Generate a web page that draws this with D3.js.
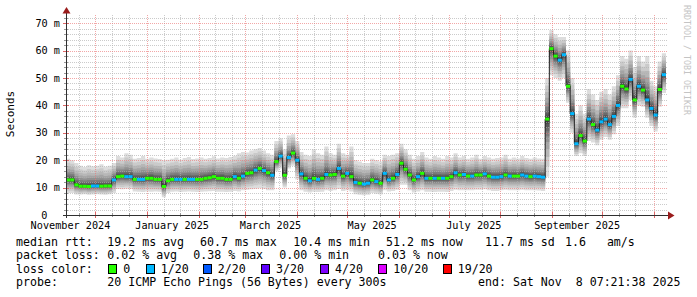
<!DOCTYPE html>
<html>
<head>
<meta charset="utf-8">
<script src="https://d3js.org/d3.v7.min.js"></script>
<style>
html, body { margin: 0; padding: 0; background: #fff; }
svg { display: block; }
text { font-family: "DejaVu Sans Mono", monospace; white-space: pre; }
</style>
</head>
<body>
<svg id="chart" width="697" height="297"></svg>
<script>
// one consolidated point every 2.5 days (720 x 300s), 360 days back from the end stamp
var endTime = Date.UTC(2025, 10, 8, 7, 21, 38);
var stepMs = 720 * 300 * 1000;
var startTime = endTime - 144 * stepMs;

// median rtt per point, ms
var median = [
  12.8, 12.8, 11.0, 10.5, 10.5, 10.4, 10.6, 10.6, 10.5, 10.6, 10.6, 12.8,
  14.0, 14.2, 14.0, 14.0, 13.0, 13.0, 13.0, 13.4, 13.4, 13.0, 13.0, 10.4,
  12.5, 13.0, 13.0, 13.0, 13.0, 13.0, 13.0, 13.0, 13.0, 13.4, 13.6, 14.0,
  13.4, 13.4, 13.0, 13.0, 14.0, 13.4, 14.2, 15.2, 15.4, 16.4, 17.0, 16.2,
  15.4, 14.5, 19.5, 21.5, 14.5, 21.0, 22.6, 20.0, 15.0, 13.4, 12.5, 13.4,
  13.0, 13.4, 14.8, 14.6, 14.8, 17.0, 14.2, 15.2, 14.0, 11.9, 11.6, 11.3,
  11.6, 12.8, 12.2, 11.6, 15.2, 12.8, 13.4, 14.8, 18.9, 16.7, 14.6, 12.8,
  14.0, 15.2, 13.4, 13.4, 13.4, 13.4, 13.4, 13.4, 14.0, 15.4, 14.6, 14.8,
  14.2, 14.2, 14.6, 14.6, 15.0, 14.2, 13.8, 13.8, 14.0, 14.6, 14.2, 14.2,
  14.2, 14.6, 14.2, 14.0, 14.2, 14.0, 13.8, 35.0, 60.7, 58.0, 56.5, 58.5,
  47.0, 37.0, 26.0, 29.0, 27.0, 35.0, 33.0, 31.0, 34.0, 35.0, 33.0, 36.0,
  40.0, 47.0, 46.0, 49.5, 42.0, 47.0, 45.6, 42.0, 38.9, 36.5, 45.8, 51.2
];

// lowest and highest of the 20 pings per point (smoke extent), ms
var smokeLo = [
  8.0, 8.0, 7.5, 7.5, 7.6, 7.4, 7.5, 7.6, 7.5, 7.4, 7.6, 8.0,
  9.5, 9.4, 9.6, 9.5, 8.6, 8.5, 8.4, 8.6, 8.5, 8.6, 8.5, 6.5,
  8.0, 8.5, 8.6, 8.4, 8.5, 8.6, 8.5, 8.4, 8.5, 8.6, 8.7, 8.8,
  8.5, 8.5, 8.4, 8.5, 8.8, 8.6, 9.0, 9.2, 9.4, 9.6, 9.8, 9.5,
  9.0, 9.0, 16.0, 17.0, 10.0, 17.0, 18.0, 13.0, 9.0, 8.5, 8.2, 8.5,
  8.4, 8.5, 9.0, 8.8, 9.0, 9.5, 8.8, 9.0, 8.6, 7.6, 7.4, 7.2,
  7.4, 8.0, 7.8, 7.5, 9.0, 8.6, 8.8, 9.2, 11.0, 11.0, 9.0, 8.2,
  8.6, 9.0, 8.5, 8.5, 8.4, 8.5, 8.5, 8.4, 8.8, 9.2, 9.0, 9.0,
  9.0, 9.0, 9.2, 9.2, 9.4, 9.0, 8.8, 8.8, 9.0, 9.2, 9.0, 9.0,
  9.0, 9.2, 9.0, 9.0, 9.0, 8.9, 8.8, 14.0, 51.0, 50.0, 49.0, 50.0,
  41.0, 30.0, 21.5, 22.5, 21.5, 27.0, 26.5, 25.5, 27.5, 28.5, 27.5, 29.5,
  32.5, 39.0, 39.0, 42.0, 35.5, 40.0, 39.5, 35.5, 32.5, 30.5, 39.5, 44.5
];
var smokeHi = [
  20.5, 20.0, 19.0, 18.0, 17.5, 18.2, 17.8, 18.0, 18.5, 17.6, 18.0, 19.0,
  21.5, 21.0, 22.5, 22.0, 20.5, 20.8, 21.5, 20.5, 21.0, 20.6, 20.4, 20.0,
  20.2, 20.5, 21.0, 20.2, 20.8, 21.2, 20.4, 20.6, 21.0, 20.5, 20.8, 21.4,
  20.6, 21.0, 20.8, 21.2, 21.6, 22.5, 23.0, 22.8, 23.5, 24.0, 24.5, 23.5,
  22.5, 22.0, 27.0, 28.0, 24.0, 29.0, 29.5, 27.0, 23.0, 22.0, 21.5, 24.0,
  22.5, 22.0, 25.0, 22.5, 22.0, 26.0, 22.5, 22.0, 25.0, 20.0, 19.5, 19.0,
  19.0, 20.5, 20.0, 19.5, 22.0, 21.5, 22.0, 22.5, 26.0, 24.0, 22.0, 20.5,
  21.5, 23.0, 21.0, 20.5, 21.5, 21.0, 20.5, 21.5, 21.0, 22.5, 21.0, 21.5,
  20.5, 21.0, 22.0, 20.5, 21.5, 21.0, 20.5, 20.8, 21.0, 22.0, 20.5, 21.0,
  20.6, 21.5, 20.8, 20.5, 21.0, 20.6, 20.5, 50.0, 67.5, 66.0, 65.0, 65.0,
  60.0, 50.0, 37.0, 40.0, 37.0, 46.0, 44.0, 42.0, 45.0, 46.0, 44.0, 47.0,
  51.0, 58.0, 57.0, 60.0, 54.0, 58.0, 56.0, 58.0, 49.0, 47.0, 56.0, 59.0
];

// lost pings (of 20) per point
var lossCount = [
  0, 0, 0, 0, 0, 0, 1, 1, 0, 0, 0, 1,
  0, 0, 1, 1, 0, 1, 1, 0, 0, 0, 0, 0,
  0, 0, 1, 1, 0, 1, 1, 0, 0, 0, 0, 0,
  0, 0, 0, 0, 1, 0, 1, 0, 0, 1, 0, 1,
  0, 1, 0, 1, 0, 1, 0, 1, 1, 0, 1, 0,
  1, 0, 1, 0, 0, 1, 0, 1, 0, 1, 0, 1,
  1, 0, 1, 0, 1, 1, 0, 1, 0, 0, 0, 0,
  1, 0, 1, 0, 1, 0, 1, 0, 0, 1, 0, 1,
  0, 1, 0, 0, 1, 0, 1, 1, 1, 0, 1, 0,
  0, 1, 1, 0, 1, 1, 1, 0, 0, 0, 1, 1,
  0, 1, 1, 0, 0, 1, 0, 1, 1, 1, 1, 1,
  1, 0, 0, 1, 0, 1, 0, 1, 1, 1, 0, 1
];

var yMajor = [10, 20, 30, 40, 50, 60, 70];
var yLabels = ["10 m", "20 m", "30 m", "40 m", "50 m", "60 m", "70 m"];

var lossLevels = [0, 1, 2, 3, 4, 10, 19];
var lossLabels = ["0", "1/20", "2/20", "3/20", "4/20", "10/20", "19/20"];
var lossColors = ["#26ff00", "#00b8ff", "#0059ff", "#5e00ff", "#7e00ff", "#dd00ff", "#ff0000"];

var rttRow = ["median rtt:", "19.2 ms avg", "60.7 ms max", "10.4 ms min", "51.2 ms now", "11.7 ms sd", "1.6   am/s"];
var lossRow = ["packet loss:", "0.02 % avg", "0.38 % max", "0.00 % min", "0.03 % now"];
var probeRow = ["probe:", "20 ICMP Echo Pings (56 Bytes) every 300s", "end: Sat Nov  8 07:21:38 2025"];

// smoke shades, outer pair of pings first
var smokeGrays = [221, 202, 183, 164, 145, 126, 107, 88, 69, 50];
var smokeSpread = [1, 0.82, 0.66, 0.52, 0.4, 0.3, 0.21, 0.14, 0.08, 0.04];

var svg = d3.select("#chart");
var x = d3.scaleUtc().domain([new Date(startTime), new Date(endTime)]).range([66, 666]);
var y = d3.scaleLinear().domain([0, 73]).range([215, 15]);

var pts = median.map(function(m, i) {
    return {t0: new Date(startTime + i * stepMs), t1: new Date(startTime + (i + 1) * stepMs),
            med: m, lo: smokeLo[i], hi: smokeHi[i], loss: lossCount[i]};
});
var last = pts[pts.length - 1];
var stepPts = pts.concat([{t0: last.t1, med: last.med, lo: last.lo, hi: last.hi}]);

// smoke
smokeGrays.forEach(function(g, k) {
    var f = smokeSpread[k];
    var area = d3.area()
        .curve(d3.curveStepAfter)
        .x(function(d) { return x(d.t0); })
        .y0(function(d) { return y(d.med - (d.med - d.lo) * f); })
        .y1(function(d) { return y(d.med + (d.hi - d.med) * f); });
    svg.append("path").datum(stepPts)
        .attr("d", area)
        .attr("fill", "rgb(" + g + "," + g + "," + g + ")");
});

// grid on top of the smoke
var grid = svg.append("g").attr("shape-rendering", "crispEdges").attr("stroke-dasharray", "1,1");
var minorDays = d3.utcDay.range(new Date(startTime), new Date(endTime)).filter(function(d) {
    return d.getUTCDate() === 11 || d.getUTCDate() === 21;
});
var months = d3.utcMonth.range(new Date(startTime), new Date(endTime));
var yMinor = d3.range(2, 73, 2).filter(function(v) { return v % 10 !== 0; });

grid.selectAll(".vmin").data(minorDays).enter().append("line")
    .attr("x1", function(d) { return Math.round(x(d)) + 0.5; })
    .attr("x2", function(d) { return Math.round(x(d)) + 0.5; })
    .attr("y1", 15).attr("y2", 215)
    .attr("stroke", "rgba(175,175,175,0.65)");
grid.selectAll(".hmin").data(yMinor).enter().append("line")
    .attr("x1", 66).attr("x2", 667)
    .attr("y1", function(d) { return Math.round(y(d)) + 0.5; })
    .attr("y2", function(d) { return Math.round(y(d)) + 0.5; })
    .attr("stroke", "rgba(175,175,175,0.65)");
grid.selectAll(".vmaj").data(months).enter().append("line")
    .attr("x1", function(d) { return Math.round(x(d)) + 0.5; })
    .attr("x2", function(d) { return Math.round(x(d)) + 0.5; })
    .attr("y1", 15).attr("y2", 215)
    .attr("stroke", "rgba(235,120,120,0.65)");
grid.selectAll(".hmaj").data(yMajor).enter().append("line")
    .attr("x1", 66).attr("x2", 667)
    .attr("y1", function(d) { return Math.round(y(d)) + 0.5; })
    .attr("y2", function(d) { return Math.round(y(d)) + 0.5; })
    .attr("stroke", "rgba(235,120,120,0.65)");

// median line and loss coloured marks
var medLine = d3.line()
    .curve(d3.curveStepAfter)
    .x(function(d) { return x(d.t0); })
    .y(function(d) { return y(d.med); });
svg.append("path").datum(stepPts)
    .attr("d", medLine)
    .attr("fill", "none")
    .attr("stroke", "#202020")
    .attr("stroke-width", 1);

function lossColor(n) {
    var c = lossColors[0];
    lossLevels.forEach(function(l, j) { if (n >= l) c = lossColors[j]; });
    return c;
}
svg.append("g").selectAll("rect").data(pts).enter().append("rect")
    .attr("x", function(d) { return x(d.t0); })
    .attr("width", function(d) { return x(d.t1) - x(d.t0); })
    .attr("y", function(d) { return y(d.med) - 1.5; })
    .attr("height", 3)
    .attr("fill", function(d) { return lossColor(d.loss); });

// axes
var ax = svg.append("g").attr("shape-rendering", "crispEdges");
ax.selectAll(".ytk").data(yMinor).enter().append("line")
    .attr("x1", 64).attr("x2", 68)
    .attr("y1", function(d) { return Math.round(y(d)) + 0.5; })
    .attr("y2", function(d) { return Math.round(y(d)) + 0.5; })
    .attr("stroke", "#999");
ax.selectAll(".ytkM").data(yMajor).enter().append("line")
    .attr("x1", 63).attr("x2", 69)
    .attr("y1", function(d) { return Math.round(y(d)) + 0.5; })
    .attr("y2", function(d) { return Math.round(y(d)) + 0.5; })
    .attr("stroke", "#d66");
ax.selectAll(".xtk").data(minorDays).enter().append("line")
    .attr("x1", function(d) { return Math.round(x(d)) + 0.5; })
    .attr("x2", function(d) { return Math.round(x(d)) + 0.5; })
    .attr("y1", 213).attr("y2", 217)
    .attr("stroke", "#999");
ax.selectAll(".xtkM").data(months).enter().append("line")
    .attr("x1", function(d) { return Math.round(x(d)) + 0.5; })
    .attr("x2", function(d) { return Math.round(x(d)) + 0.5; })
    .attr("y1", 212).attr("y2", 218)
    .attr("stroke", "#d66");
ax.append("line").attr("x1", 63).attr("x2", 670).attr("y1", 215.5).attr("y2", 215.5).attr("stroke", "#303030");
ax.append("line").attr("x1", 66.5).attr("x2", 66.5).attr("y1", 218).attr("y2", 12).attr("stroke", "#303030");
svg.append("path").attr("d", "M668,211.5L674.5,215.5L668,219.5Z").attr("fill", "#9a1c1c");
svg.append("path").attr("d", "M62.5,13.5L66.5,7L70.5,13.5Z").attr("fill", "#9a1c1c");

// axis labels
svg.append("g").selectAll("text").data(yMajor).enter().append("text")
    .attr("x", 60).attr("y", function(d) { return y(d) + 3.6; })
    .attr("text-anchor", "end").attr("font-size", "10.2px").attr("fill", "#000")
    .text(function(d, i) { return yLabels[i]; });
svg.append("text").attr("x", 47.5).attr("y", y(0) + 3.6)
    .attr("text-anchor", "end").attr("font-size", "10.2px").text("0");

// two-monthly labels, centred half a month after the month start, only if inside the plot
var labelMonths = [d3.utcMonth.floor(new Date(startTime))].concat(months)
    .filter(function(d) {
        var cx = x(d3.utcDay.offset(d, 15));
        return d.getUTCMonth() % 2 === 0 && cx >= 66 && cx <= 666;
    });
svg.append("g").selectAll("text").data(labelMonths).enter().append("text")
    .attr("x", function(d) { return x(d3.utcDay.offset(d, 15)); })
    .attr("y", 229)
    .attr("text-anchor", "middle").attr("font-size", "10.2px")
    .text(d3.utcFormat("%B %Y"));

svg.append("text").attr("transform", "translate(14,114) rotate(-90)")
    .attr("text-anchor", "middle").attr("font-size", "11px").text("Seconds");
svg.append("text").attr("transform", "translate(684,5) rotate(90)")
    .attr("font-size", "8.3px").attr("fill", "#c4c4c4").text("RRDTOOL / TOBI OETIKER");

// legend
var legend = svg.append("g").attr("font-size", "11.6px").attr("fill", "#000");
var rttX = [16, 107.3, 200, 293.3, 386, 485, 565];
var lossX = [16, 107.3, 193.3, 279.3, 378];
var probeX = [16, 107.3, 478];
var boxX = [108.3, 145.7, 202.7, 261, 320, 378.3, 442.7];

legend.selectAll(".r1").data(rttRow).enter().append("text")
    .attr("x", function(d, i) { return rttX[i]; }).attr("y", 245.5).text(function(d) { return d; });
legend.selectAll(".r2").data(lossRow).enter().append("text")
    .attr("x", function(d, i) { return lossX[i]; }).attr("y", 259).text(function(d) { return d; });
legend.append("text").attr("x", 16).attr("y", 272.5).text("loss color:");
legend.selectAll(".bx").data(lossColors).enter().append("rect")
    .attr("x", function(d, i) { return boxX[i] + 0.5; }).attr("y", 264.5)
    .attr("width", 8).attr("height", 9)
    .attr("fill", function(d) { return d; })
    .attr("stroke", "#000").attr("stroke-width", 1).attr("shape-rendering", "crispEdges");
legend.selectAll(".bt").data(lossLabels).enter().append("text")
    .attr("x", function(d, i) { return boxX[i] + 15; }).attr("y", 272.5).text(function(d) { return d; });
legend.selectAll(".r4").data(probeRow).enter().append("text")
    .attr("x", function(d, i) { return probeX[i]; }).attr("y", 286).text(function(d) { return d; });
</script>
</body>
</html>
